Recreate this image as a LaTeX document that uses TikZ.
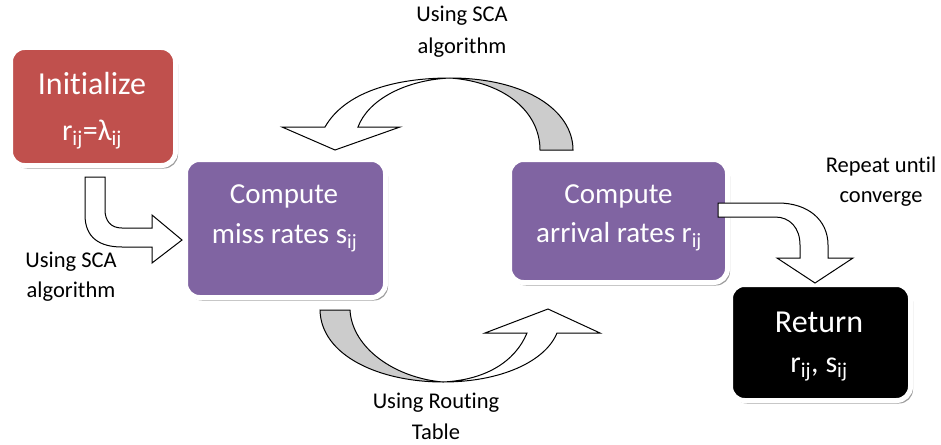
\documentclass[tikz,border=0pt]{standalone}
\usepackage{fontspec}
\setmainfont{Carlito}[Ligatures=NoCommon]
\usetikzlibrary{shadows}
\definecolor{redc}{HTML}{C0504D}
\definecolor{purc}{HTML}{8064A2}
\tikzset{
  boxshape/.style={rectangle, rounded corners=14pt, draw=white, line width=5pt, inner sep=0pt,
    drop shadow={shadow xshift=2.5pt, shadow yshift=-3pt, fill=black!45, opacity=0.85}},
  blockarrow/.style={draw=black, line width=1pt, fill=white, line join=miter},
  backarrow/.style={draw=black, line width=1pt, fill=black!20, line join=miter},
  boxtext/.style={text=white, anchor=base, inner sep=0pt},
  lbl/.style={anchor=base, inner sep=0pt, font=\fontsize{22.5}{26}\selectfont},
}
\begin{document}
\begin{tikzpicture}[x=1pt,y=-1pt]
\useasboundingbox (0,0) rectangle (941,444);

% boxes
\node[boxshape, fill=redc, minimum width=165pt, minimum height=118pt] (init) at (93,106.5) {};
\node[boxshape, fill=purc, minimum width=200pt, minimum height=138pt] (miss) at (285.5,228.5) {};
\node[boxshape, fill=purc, minimum width=218pt, minimum height=123pt] (arr) at (618.5,221) {};
\node[boxshape, fill=black, minimum width=180pt, minimum height=116pt] (ret) at (820.5,342.5) {};

% box texts
\node[boxtext, font=\fontsize{32}{36}\selectfont] (t1a) at (92,94) {Initialize};
\node[boxtext, font=\fontsize{30}{34}\selectfont] (t1b) at (92,140) {r\textsubscript{ij}=λ\textsubscript{ij}};
\node[boxtext, font=\fontsize{29}{34}\selectfont] (t2a) at (284,203) {Compute};
\node[boxtext, font=\fontsize{29}{34}\selectfont] (t2b) at (284.5,243) {miss rates s\textsubscript{ij}};
\node[boxtext, font=\fontsize{29}{34}\selectfont] (t3a) at (618.5,203) {Compute};
\node[boxtext, font=\fontsize{29}{34}\selectfont] (t3b) at (619,242) {arrival rates r\textsubscript{ij}};
\node[boxtext, font=\fontsize{32}{36}\selectfont] (t4a) at (819,332) {Return};
\node[boxtext, font=\fontsize{30}{34}\selectfont] (t4b) at (819,372) {r\textsubscript{ij}, s\textsubscript{ij}};

% arrow: Initialize -> miss rates
\draw[blockarrow] (85,177) -- (85,215) .. controls (85,238) and (100,247) .. (122,247)
  -- (152,247) -- (152,263) -- (182,240) -- (152,215) -- (152,228) -- (122,228)
  .. controls (111,228) and (105,221) .. (105,210) -- (105,177) -- cycle;

% arrow: arrival -> return
\draw[blockarrow] (718,203) -- (778,203) .. controls (808,203) and (828,220) .. (828,245)
  -- (828,258) -- (853,258) -- (815,283) -- (777,258) -- (800,258) -- (800,245)
  .. controls (800,228) and (790,217) .. (775,217) -- (718,217) -- cycle;

% top curved arrow: arrival -> miss rates
\draw[backarrow] (450,78) .. controls (525,78) and (573,110) .. (573,150) -- (540,150)
  .. controls (540,112) and (505,82) .. (450,78) -- cycle;
\draw[blockarrow] (282,127) -- (325,127) .. controls (345,92) and (395,78) .. (450,78)
  .. controls (405,80) and (368,100) .. (358,127) -- (400,127) -- (335,150) -- cycle;

% bottom curved arrow: miss rates -> arrival
\draw[backarrow] (320,310) -- (350,310) .. controls (352,348) and (395,378) .. (443,382)
  .. controls (380,382) and (321,356) .. (320,310) -- cycle;
\draw[blockarrow] (485,333) -- (527,333) .. controls (515,362) and (485,380) .. (443,382)
  .. controls (500,382) and (545,362) .. (557,333) -- (600,333) -- (548,309) -- cycle;

% labels
\node[lbl] (l1a) at (462,22) {Using SCA};
\node[lbl] (l1b) at (462,53) {algorithm};
\node[lbl] (l2a) at (71,267) {Using SCA};
\node[lbl] (l2b) at (71,297) {algorithm};
\node[lbl] (l3a) at (436,408) {Using Routing};
\node[lbl] (l3b) at (436,439) {Table};
\node[lbl] (l4a) at (881,172) {Repeat until};
\node[lbl] (l4b) at (881,202) {converge};
\end{tikzpicture}
\end{document}
